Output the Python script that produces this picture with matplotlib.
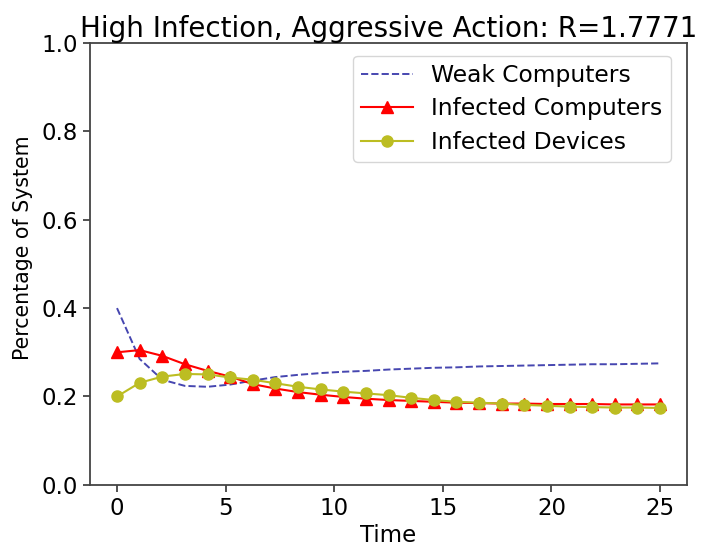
import numpy as np
import matplotlib
matplotlib.use("Agg")
import matplotlib.pyplot as plt

# time samples (25 points from 0 to 25)
time = np.linspace(0, 25, 25)

weak_computers = [0.400, 0.285, 0.238, 0.224, 0.222, 0.227, 0.236, 0.244, 0.249,
                  0.253, 0.256, 0.258, 0.261, 0.263, 0.265, 0.266, 0.268, 0.269,
                  0.270, 0.271, 0.272, 0.273, 0.273, 0.274, 0.275]
infected_computers = [0.300, 0.305, 0.292, 0.273, 0.258, 0.245, 0.228, 0.218, 0.210,
                      0.204, 0.199, 0.195, 0.192, 0.190, 0.188, 0.186, 0.185, 0.184,
                      0.184, 0.183, 0.183, 0.183, 0.182, 0.182, 0.182]
infected_devices = [0.200, 0.231, 0.245, 0.251, 0.250, 0.243, 0.238, 0.230, 0.222,
                    0.216, 0.211, 0.207, 0.203, 0.197, 0.192, 0.188, 0.186, 0.184,
                    0.181, 0.179, 0.177, 0.176, 0.175, 0.175, 0.174]

R_value = 1.7771

fig = plt.figure(figsize=(7.02, 5.51), dpi=100)
ax = fig.add_axes([0.128, 0.120, 0.851, 0.802])

ax.plot(time, weak_computers, '--', color='#4646b0', lw=1.4, label='Weak Computers')
ax.plot(time, infected_computers, '-^', color='red', lw=1.5, ms=8, label='Infected Computers')
ax.plot(time, infected_devices, '-o', color='#bcbd22', lw=1.5, ms=8, label='Infected Devices')

ax.set_ylim(0, 1.0)
ax.set_xlim(-1.25, 26.25)
ax.set_xticks([0, 5, 10, 15, 20, 25])
ax.set_yticks([0.0, 0.2, 0.4, 0.6, 0.8, 1.0])
ax.tick_params(labelsize=16.5, length=5, width=1.2, colors='#333333', labelcolor='black')
for s in ax.spines.values():
    s.set_linewidth(1.3)
    s.set_color('#444444')

ax.set_xlabel('Time', fontsize=16.5, labelpad=3)
ax.set_ylabel('Percentage of System', fontsize=14.8)
ax.yaxis.set_label_coords(-0.095, 0.536)
ax.set_title(f'High Infection, Aggressive Action: R={R_value}', fontsize=20, pad=4)

ax.legend(loc='upper right', fontsize=16.8, handlelength=2.2, borderpad=0.35,
          labelspacing=0.45, bbox_to_anchor=(0.992, 0.998))

fig.savefig('out.png', dpi=100)
